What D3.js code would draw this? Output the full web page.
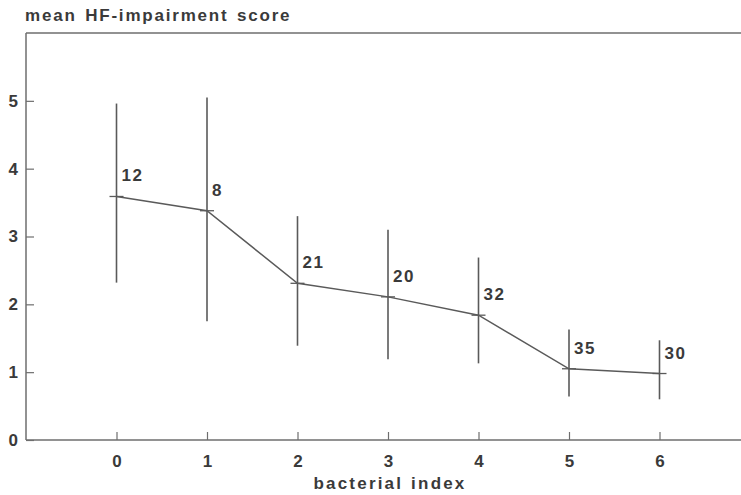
<html>
<head>
<script src="https://d3js.org/d3.v7.min.js"></script>
<style>
  body { margin: 0; background: #fff; }
  text { font-family: "Liberation Sans", Arial, sans-serif; font-weight: bold; fill: #3a3a3a; }
</style>
</head>
<body>
<svg width="741" height="495"></svg>
<script>
// bacterial index categories, mean score, error bar limits, n per group
var index = [0, 1, 2, 3, 4, 5, 6];
var means = [3.59, 3.38, 2.31, 2.11, 1.84, 1.05, 0.98];
var upper = [4.96, 5.05, 3.30, 3.10, 2.69, 1.63, 1.47];
var lower = [2.32, 1.75, 1.39, 1.19, 1.13, 0.64, 0.60];
var counts = ["12", "8", "21", "20", "32", "35", "30"];
var yTicks = [0, 1, 2, 3, 4, 5];

var svg = d3.select("svg");
var lineColor = "#5a5a5a", frameColor = "#6e6e6e";

var x = d3.scaleLinear().domain([-1, 7]).range([26, 750]);
var y = d3.scaleLinear().domain([0, 6]).range([440, 33]);

// frame: left, top, bottom (open on the right)
svg.append("line").attr("x1", x(-1)).attr("x2", x(-1)).attr("y1", y(6)).attr("y2", y(0))
  .style("stroke", frameColor).style("stroke-width", 1.5);
svg.append("line").attr("x1", x(-1)).attr("x2", 741).attr("y1", y(6)).attr("y2", y(6))
  .style("stroke", frameColor).style("stroke-width", 1.5);
svg.append("line").attr("x1", x(-1)).attr("x2", 741).attr("y1", y(0)).attr("y2", y(0))
  .style("stroke", frameColor).style("stroke-width", 1.5);

// y axis, ticks pointing inward
var yAxis = svg.append("g").attr("transform", "translate(" + x(-1) + ",0)")
  .call(d3.axisLeft(y).tickValues(yTicks).tickSize(-8).tickPadding(8).tickFormat(d3.format("d")));
yAxis.select(".domain").remove();
yAxis.attr("font-size", null).attr("font-family", null);
yAxis.selectAll("line").style("stroke", frameColor).style("stroke-width", 1.2);
yAxis.selectAll("text").style("font-size", "17px");

// x axis, ticks pointing up
var xAxis = svg.append("g").attr("transform", "translate(0," + y(0) + ")")
  .call(d3.axisBottom(x).tickValues(index).tickSize(-8).tickPadding(15).tickFormat(d3.format("d")));
xAxis.select(".domain").remove();
xAxis.attr("font-size", null).attr("font-family", null);
xAxis.selectAll("line").style("stroke", frameColor).style("stroke-width", 1.2);
xAxis.selectAll("text").style("font-size", "17px");

// titles
svg.append("text").attr("x", 25).attr("y", 21).style("font-size", "17px")
  .style("letter-spacing", "1.8px").style("word-spacing", "2px")
  .text("mean HF-impairment score");
svg.append("text").attr("x", 390).attr("y", 489).attr("text-anchor", "middle").style("font-size", "17px")
  .style("letter-spacing", "2.2px").style("word-spacing", "1px").text("bacterial index");

// error bars
svg.append("g").selectAll("line").data(index).enter().append("line")
  .attr("x1", function(d){ return x(d); }).attr("x2", function(d){ return x(d); })
  .attr("y1", function(d, i){ return y(upper[i]); }).attr("y2", function(d, i){ return y(lower[i]); })
  .style("stroke", lineColor).style("stroke-width", 1.6);

// mean markers
svg.append("g").selectAll("line").data(index).enter().append("line")
  .attr("x1", function(d){ return x(d) - 7; }).attr("x2", function(d){ return x(d) + 7; })
  .attr("y1", function(d, i){ return y(means[i]); }).attr("y2", function(d, i){ return y(means[i]); })
  .style("stroke", lineColor).style("stroke-width", 1.3);

// connecting line
var line = d3.line().x(function(d){ return x(d); }).y(function(d, i){ return y(means[i]); });
svg.append("path").datum(index).attr("d", line)
  .style("fill", "none").style("stroke", lineColor).style("stroke-width", 1.5);

// n labels
svg.append("g").selectAll("text").data(index).enter().append("text")
  .attr("x", function(d){ return x(d) + 5; }).attr("y", function(d, i){ return y(means[i]) - 15; })
  .style("font-size", "17px").style("letter-spacing", "1.5px")
  .text(function(d, i){ return counts[i]; });
</script>
</body>
</html>
